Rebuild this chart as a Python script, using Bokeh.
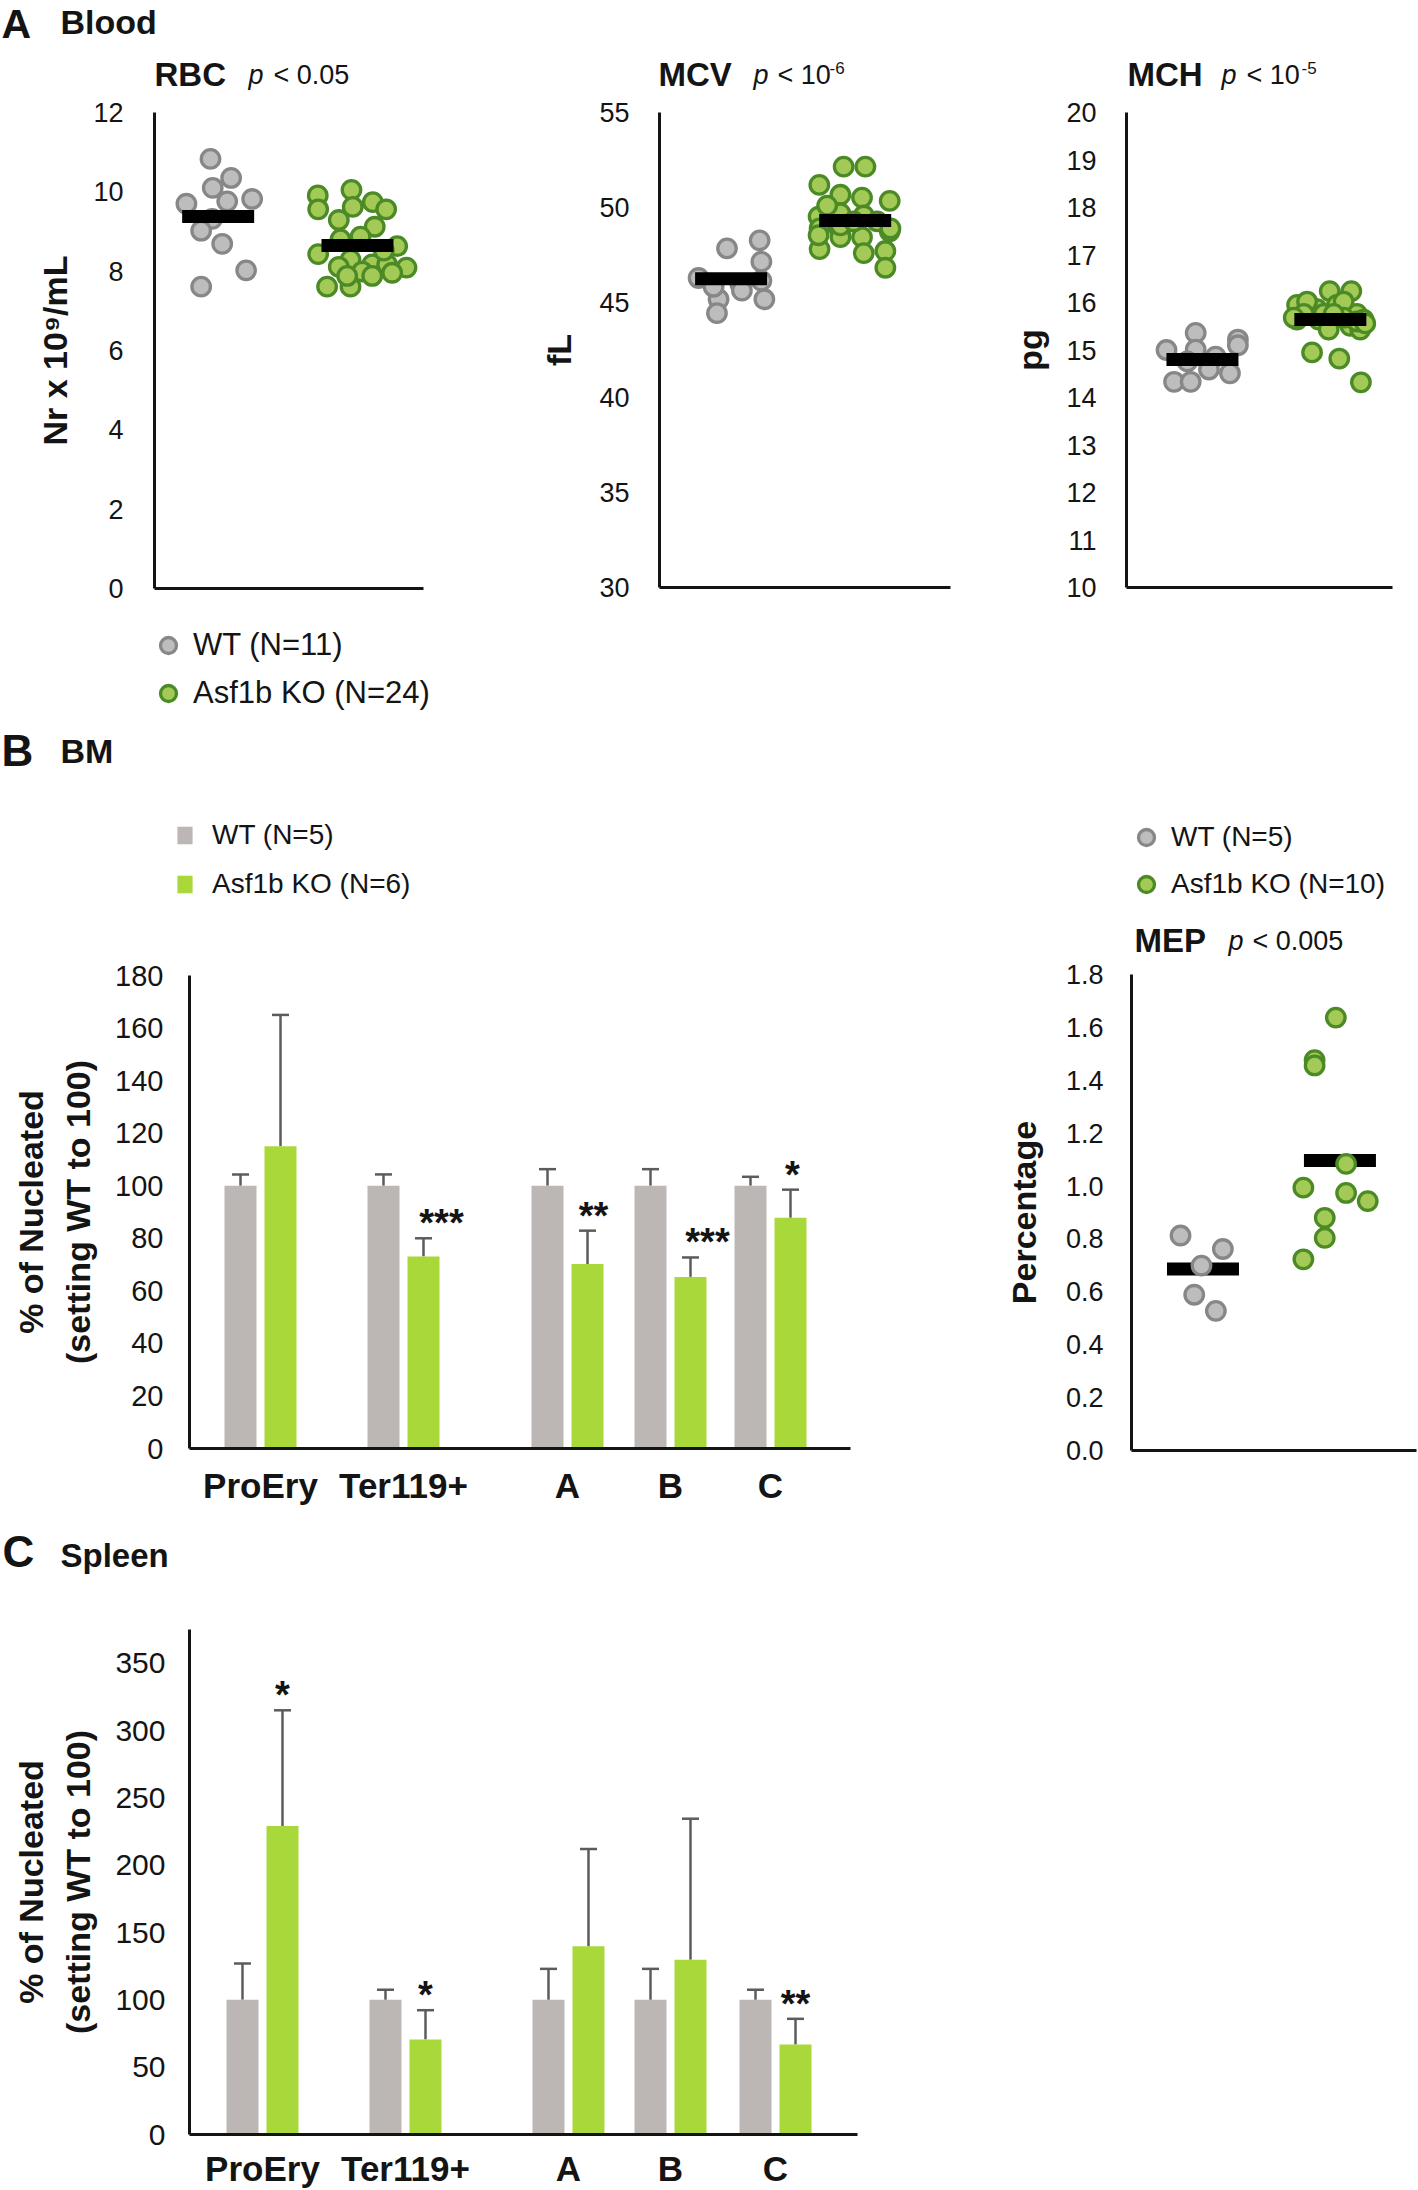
from bokeh.plotting import figure
from bokeh.models import (Label, Legend, LegendItem, FixedTicker, Range1d, Whisker, LinearAxis,
                          TeeHead, ColumnDataSource, NumeralTickFormatter)
from bokeh.layouts import column, row
from bokeh.embed import file_html
from bokeh.resources import INLINE
from bokeh.core.properties import value

FONT = "Liberation Sans"
INK = "#141414"
GRAY_FILL, GRAY_LINE = "#bdbdbd", "#878787"
GREEN_FILL, GREEN_LINE = "#a3ca57", "#4b8a25"
BAR_GRAY, BAR_GREEN = "#bcb7b4", "#a9d83a"
ERR = "#5c5c5c"

# ---------------- data: panel A (Blood) ----------------
rbc_wt = [10.83, 10.35, 10.10, 9.76, 9.70, 9.82, 9.32, 9.02, 8.69, 8.02, 7.61]
rbc_wt_jit = [-0.055, 0.093, -0.039, 0.065, -0.228, 0.244, -0.043, -0.122, 0.029, 0.201, -0.122]
rbc_ko = [9.91, 10.05, 9.56, 9.62, 9.74, 9.56, 9.29, 9.12, 8.87, 8.63, 8.43, 8.29,
          8.17, 8.11, 8.17, 8.09, 7.99, 7.88, 7.96, 7.61, 7.61, 7.88, 8.80, 8.52]
rbc_ko_jit = [-0.285, -0.043, -0.282, -0.034, 0.110, 0.206, -0.134, 0.124, 0.022, 0.285, -0.282, -0.050,
              0.106, -0.134, 0.213, 0.352, 0.034, 0.106, 0.249, -0.218, -0.050, -0.074, -0.122, 0.189]
rbc_mean = [9.38, 8.65]

mcv_wt = [47.85, 48.27, 47.15, 46.29, 45.98, 46.15, 45.17, 45.17, 44.44, 45.63, 45.83]
mcv_wt_jit = [-0.033, 0.230, 0.244, -0.262, 0.074, 0.244, -0.101, 0.268, -0.114, 0.087, -0.141]
mcv_ko = [52.15, 52.15, 51.19, 50.67, 50.52, 50.35, 49.52, 49.69, 49.58, 48.90, 48.75, 48.44,
          48.75, 47.81, 48.44, 47.60, 47.71, 46.83, 48.54, 49.06, 49.27, 49.27, 48.90, 50.10]
mcv_ko_jit = [-0.093, 0.082, -0.289, -0.119, 0.055, 0.278, -0.295, -0.119, 0.069, -0.287, -0.119, 0.055,
              0.278, -0.287, -0.119, 0.069, 0.243, 0.243, -0.295, -0.119, -0.012, 0.177, 0.284, -0.226]
mcv_mean = [46.25, 49.31]

mch_wt = [15.36, 15.22, 15.10, 15.00, 15.01, 14.86, 14.76, 14.59, 14.51, 14.33, 14.33]
mch_wt_jit = [-0.053, 0.277, 0.277, -0.281, -0.053, 0.103, -0.118, 0.051, 0.215, -0.222, -0.092]
mch_ko = [16.24, 16.24, 15.95, 15.86, 15.95, 15.76, 15.64, 15.64, 15.43, 15.51, 15.43, 15.64,
          14.95, 14.82, 14.32, 16.02, 16.02, 15.60, 15.76, 15.76, 15.68, 15.68, 15.56, 15.76]
mch_ko_jit = [-0.005, 0.164, -0.260, -0.104, 0.052, 0.208, -0.260, -0.091, -0.013, 0.156, 0.234, 0.260,
              -0.143, 0.070, 0.239, -0.182, 0.104, 0.208, -0.208, -0.052, 0.104, -0.286, 0.273, 0.026]
mch_mean = [14.80, 15.64]

# ---------------- data: panel B (BM) ----------------
cells = ["ProEry", "Ter119+", "A", "B", "C"]
bm_wt = [100, 100, 100, 100, 100]
bm_wt_sd = [4.3, 4.3, 6.3, 6.3, 3.4]
bm_ko = [115.0, 73.1, 70.2, 65.3, 87.8]
bm_ko_sd = [50.0, 6.9, 12.7, 7.4, 10.7]
bm_stars = ["", "***", "**", "***", "*"]

mep_wt = [0.813, 0.762, 0.699, 0.589, 0.528]
mep_wt_jit = [-0.164, 0.145, -0.011, -0.064, 0.094]
mep_ko = [1.637, 1.476, 1.456, 1.084, 0.994, 0.974, 0.943, 0.880, 0.804, 0.723]
mep_ko_jit = [-0.030, -0.185, -0.185, 0.045, -0.267, 0.045, 0.203, -0.111, -0.111, -0.267]
mep_mean = [0.686, 1.097]

# ---------------- data: panel C (Spleen) ----------------
sp_wt = [100, 100, 100, 100, 100]
sp_wt_sd = [27.0, 7.5, 23.0, 23.0, 7.5]
sp_ko = [229.0, 70.6, 139.7, 129.8, 66.8]
sp_ko_sd = [86.0, 21.7, 72.3, 104.7, 19.1]
sp_stars = ["*", "*", "", "", "**"]

# ---------------- layout constants (pixels / positions) ----------------
bm_pos = [71, 214, 378, 481, 581]
sp_pos = [73, 216, 379, 481, 586]
bm_star_dx = [0, 18, 6, 17, 2]
sp_star_dx = [0, 0, 0, 0, 0]


class Panel:
    """A figure whose frame covers the whole canvas; the plotting box (L,R,T,B)
    in page pixels maps to data (x0,x1,y0,y1); axes are pinned at x0 / y0."""

    def __init__(self, fx, fy, w, h, L, R, T, B, x0, x1, y0, y1):
        sx = (x1 - x0) / (R - L)
        sy = (y1 - y0) / (B - T)
        xr = Range1d(x0 - (L - fx) * sx, x1 + (fx + w - R) * sx)
        yr = Range1d(y0 - (fy + h - B) * sy, y1 + (T - fy) * sy)
        p = figure(width=w, height=h, x_range=xr, y_range=yr,
                   output_backend="svg", toolbar_location=None,
                   x_axis_location=None, y_axis_location=None,
                   min_border=0)
        p.min_border_left = p.min_border_right = p.min_border_top = p.min_border_bottom = 0
        p.outline_line_color = None
        p.grid.visible = False
        p.background_fill_color = "white"
        p.border_fill_color = "white"
        self.p, self.fx, self.fy, self.h = p, fx, fy, h
        self.x0, self.x1, self.y0, self.y1 = x0, x1, y0, y1
        self.ya = LinearAxis(fixed_location=x0, bounds=(y0, y1))
        self.xa = LinearAxis(fixed_location=y0, bounds=(x0, x1))
        for ax in (self.ya, self.xa):
            ax.major_tick_line_color = None
            ax.minor_tick_line_color = None
            ax.major_tick_out = 0
            ax.major_tick_in = 0
            ax.minor_tick_out = 0
            ax.minor_tick_in = 0
            ax.axis_line_width = 3
            ax.axis_line_color = INK
            ax.major_label_text_font = FONT
            ax.major_label_text_color = INK
        p.add_layout(self.ya, "left")
        p.add_layout(self.xa, "below")

    def yaxis(self, ticks, tsize, tstand, label, lsize, lstand, fmt=None):
        ya = self.ya
        ya.ticker = FixedTicker(ticks=ticks)
        if fmt:
            ya.formatter = NumeralTickFormatter(format=fmt)
        ya.major_label_text_font_size = f"{tsize}px"
        ya.major_label_standoff = tstand
        ya.axis_label = label
        ya.axis_label_text_font = FONT
        ya.axis_label_text_font_style = "bold"
        ya.axis_label_text_font_size = f"{lsize}px"
        ya.axis_label_text_color = INK
        ya.axis_label_standoff = lstand
        ya.axis_label_text_line_height = 1.24

    def put(self, X, Y, text, size, style="normal", align="left"):
        # (X, Y): left edge / vertical centre of the text, in page pixels
        self.p.add_layout(Label(x=X - self.fx, y=self.fy + self.h - Y,
                                x_units="screen", y_units="screen",
                                text=text, text_font=FONT, text_font_size=f"{size}px",
                                text_font_style=style, text_align=align,
                                text_baseline="alphabetic", text_color=INK))

    def legend(self, items, left, bottom, gw, gh, standoff, spacing, size):
        leg = Legend(items=[LegendItem(label=t, renderers=[r]) for t, r in items],
                     location=(left - self.fx, self.fy + self.h - bottom),
                     glyph_width=gw, glyph_height=gh, label_standoff=standoff,
                     spacing=spacing, padding=0, margin=0, border_line_color=None,
                     background_fill_alpha=0, label_text_font=FONT,
                     label_text_font_size=f"{size}px", label_text_color=INK)
        self.p.add_layout(leg)


def dot_panel(P, wt, wt_j, ko, ko_j, means, points_on_top=False):
    p = P.p
    kw_w = dict(size=18.5, fill_color=GRAY_FILL, line_color=GRAY_LINE, line_width=3.3)
    kw_k = dict(size=18.5, fill_color=GREEN_FILL, line_color=GREEN_LINE, line_width=3.3)
    bar = dict(width=72, height=13, width_units="screen", height_units="screen",
               fill_color="black", line_color=None)
    if points_on_top:
        p.rect(x=[1, 2], y=means, **bar)
        r1 = p.scatter(x=[1 + j for j in wt_j], y=wt, **kw_w)
        r2 = p.scatter(x=[2 + j for j in ko_j], y=ko, **kw_k)
    else:
        r1 = p.scatter(x=[1 + j for j in wt_j], y=wt, **kw_w)
        p.rect(x=[1], y=[means[0]], **bar)
        r2 = p.scatter(x=[2 + j for j in ko_j], y=ko, **kw_k)
        p.rect(x=[2], y=[means[1]], **bar)
    P.xa.ticker = FixedTicker(ticks=[])
    return r1, r2


def bar_panel(P, pos, wt, wt_sd, ko, ko_sd, stars, star_dx, cstand):
    p = P.p
    xw = [x - 20 for x in pos]
    xk = [x + 20 for x in pos]
    rw = p.vbar(x=xw, top=wt, width=32, fill_color=BAR_GRAY, line_color=None)
    rk = p.vbar(x=xk, top=ko, width=32, fill_color=BAR_GREEN, line_color=None)
    for xs, m, sd in ((xw, wt, wt_sd), (xk, ko, ko_sd)):
        src = ColumnDataSource(dict(base=xs, lower=m, upper=[a + b for a, b in zip(m, sd)]))
        p.add_layout(Whisker(source=src, base="base", lower="lower", upper="upper",
                             line_color=ERR, line_width=2.5, lower_head=None,
                             upper_head=TeeHead(size=17, line_color=ERR, line_width=2.5)))
    sx, sy, st = [], [], []
    for i, s in enumerate(stars):
        if s:
            sx.append(xk[i] + star_dx[i])
            sy.append(ko[i] + ko_sd[i])
            st.append(s)
    p.text(x=sx, y=sy, text=st, text_align="center", text_baseline="alphabetic",
           text_font=value(FONT), text_font_style="bold", text_font_size="38px",
           text_color=INK, y_offset=-15)
    xa = P.xa
    xa.ticker = FixedTicker(ticks=pos)
    xa.major_label_overrides = {pos[i]: cells[i] for i in range(len(pos))}
    xa.major_label_text_font_size = "35px"
    xa.major_label_text_font_style = "bold"
    xa.major_label_standoff = cstand
    return rw, rk


# ================= Row 1: Blood =================
RBC = Panel(0, 0, 480, 720, 154, 423, 112, 588, 0.543, 2.474, 0, 12)
RBC.yaxis(list(range(0, 13, 2)), 27, 31, "Nr x 10\u2079/mL", 34, 16)
w1, k1 = dot_panel(RBC, rbc_wt, rbc_wt_jit, rbc_ko, rbc_ko_jit, rbc_mean)
RBC.put(1, 23, "A", 41, "bold")
RBC.put(60, 21, "Blood", 34, "bold")
RBC.put(154, 74, "RBC", 33, "bold")
RBC.put(248, 74, "p", 27, "italic")
RBC.put(273, 74, "< 0.05", 27)
RBC.legend([("WT (N=11)", w1), ("Asf1b KO (N=24)", k1)], 148, 713, 40, 40, 5, 8, 31)

MCV = Panel(480, 0, 480, 720, 659, 950, 112, 587, 0.423, 2.768, 30, 55)
MCV.yaxis(list(range(30, 56, 5)), 27, 30, "fL", 34, 18)
dot_panel(MCV, mcv_wt, mcv_wt_jit, mcv_ko, mcv_ko_jit, mcv_mean)
MCV.put(658, 74, "MCV", 33, "bold")
MCV.put(753, 74, "p", 27, "italic")
MCV.put(777, 74, "< 10", 27)
MCV.put(829, 67, "-6", 17)

MCH = Panel(960, 0, 458, 720, 1126, 1392, 112, 587, 0.406, 2.486, 10, 20)
MCH.yaxis(list(range(10, 21)), 27, 30, "pg", 34, 14)
dot_panel(MCH, mch_wt, mch_wt_jit, mch_ko, mch_ko_jit, mch_mean)
MCH.put(1127, 74, "MCH", 33, "bold")
MCH.put(1221, 74, "p", 27, "italic")
MCH.put(1246, 74, "< 10", 27)
MCH.put(1301, 67, "-5", 17)

# ================= Row 2: BM =================
BMF = Panel(0, 720, 1000, 800, 189, 850, 975, 1448, 0, 661, 0, 180)
BMF.yaxis(list(range(0, 181, 20)), 29, 26, "% of Nucleated\n(setting WT to 100)", 34, 15)
bw, bk = bar_panel(BMF, bm_pos, bm_wt, bm_wt_sd, bm_ko, bm_ko_sd, bm_stars, bm_star_dx, 17)
BMF.put(1, 750, "B", 44, "bold")
BMF.put(60, 750, "BM", 34, "bold")
BMF.legend([("WT (N=5)", bw), ("Asf1b KO (N=6)", bk)], 175, 900, 19, 22, 18, 17, 28)

MEP = Panel(1000, 720, 418, 800, 1131, 1416, 974, 1450, 0.478, 2.559, 0, 1.8)
MEP.yaxis([round(0.2 * i, 1) for i in range(10)], 27, 28, "Percentage", 34, 20, fmt="0.0")
m1, m2 = dot_panel(MEP, mep_wt, mep_wt_jit, mep_ko, mep_ko_jit, mep_mean, points_on_top=True)
MEP.put(1134, 940, "MEP", 33, "bold")
MEP.put(1228, 940, "p", 27, "italic")
MEP.put(1252, 940, "< 0.005", 27)
MEP.legend([("WT (N=5)", m1), ("Asf1b KO (N=10)", m2)], 1126, 904, 40, 40, 5, 7, 28)

# ================= Row 3: Spleen =================
SPF = Panel(0, 1520, 1000, 670, 189, 857, 1629, 2134, 0, 668, 0, 375)
SPF.yaxis(list(range(0, 351, 50)), 30, 24, "% of Nucleated\n(setting WT to 100)", 34, 15)
bar_panel(SPF, sp_pos, sp_wt, sp_wt_sd, sp_ko, sp_ko_sd, sp_stars, sp_star_dx, 14)
SPF.put(2, 1551, "C", 44, "bold")
SPF.put(60, 1555, "Spleen", 33, "bold")

page = column(row(RBC.p, MCV.p, MCH.p), row(BMF.p, MEP.p), row(SPF.p))
open("out.html", "w").write(file_html(page, INLINE))
